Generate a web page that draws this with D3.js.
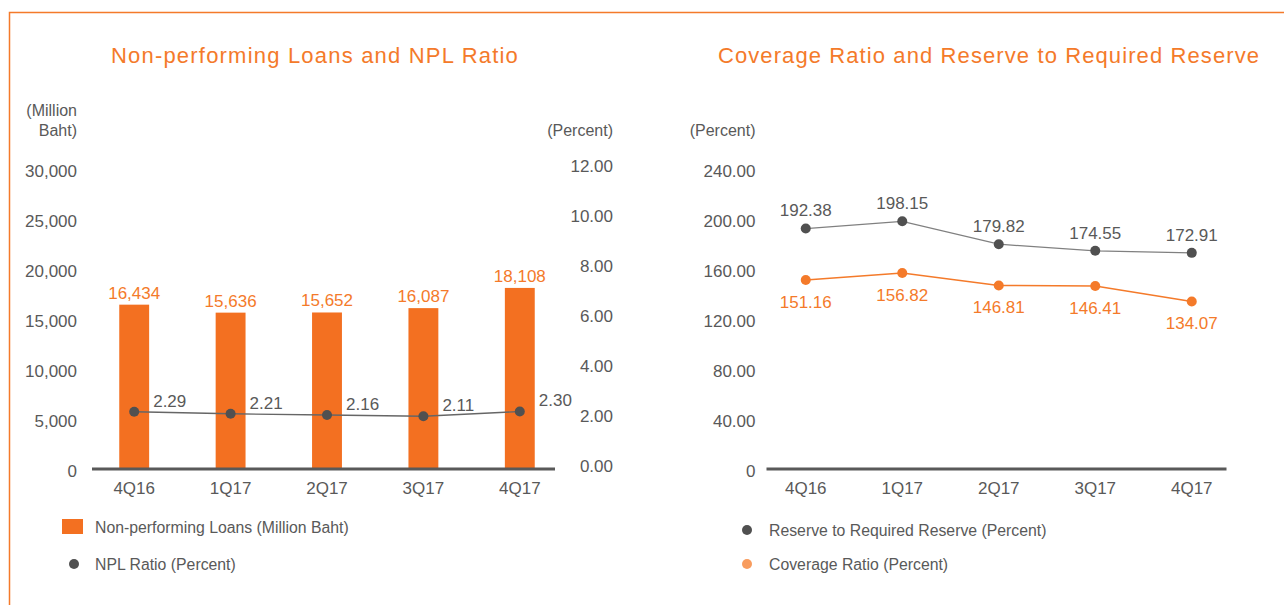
<!DOCTYPE html>
<html>
<head>
<meta charset="utf-8">
<script src="https://d3js.org/d3.v7.min.js"></script>
<style>
  body { margin: 0; background: #fff; }
  svg { display: block; font-family: "Liberation Sans", Arial, sans-serif; }
</style>
</head>
<body>
<svg id="chart" width="1284" height="605"></svg>
<script>
// Data
var quarters = ["4Q16", "1Q17", "2Q17", "3Q17", "4Q17"];
var nplValues = [16434, 15636, 15652, 16087, 18108];
var nplRatio = [2.29, 2.21, 2.16, 2.11, 2.30];
var reserveRatio = [192.38, 198.15, 179.82, 174.55, 172.91];
var coverageRatio = [151.16, 156.82, 146.81, 146.41, 134.07];

var nplTicks = [0, 5000, 10000, 15000, 20000, 25000, 30000];
var pctTicks = [0, 2, 4, 6, 8, 10, 12];
var coverTicks = [0, 40, 80, 120, 160, 200, 240];

var orange = "#f47a2a";
var barOrange = "#f37021";
var lightOrange = "#f89c5e";
var gray = "#595959";
var dotGray = "#505050";

var svg = d3.select("#chart");

// Orange frame (top and left edges)
svg.append("path")
    .attr("d", "M1284,12.5 L9.5,12.5 L9.5,605")
    .attr("fill", "none")
    .attr("stroke", orange)
    .attr("stroke-width", 1.5);

function styleAxis(g, size) {
    g.select(".domain").remove();
    g.selectAll("text")
        .attr("fill", gray)
        .style("font-size", size + "px")
        .style("font-family", "Liberation Sans, Arial, sans-serif");
}

// ---------- Left chart: Non-performing Loans and NPL Ratio ----------
var x1 = d3.scaleBand().domain(quarters).range([86, 568]).padding(0);
var y1 = d3.scaleLinear().domain([0, 30000]).range([469, 169]);
var y1r = d3.scaleLinear().domain([0, 12]).range([469, 169]);

svg.append("text")
    .attr("x", 315).attr("y", 55).attr("dy", "0.35em")
    .attr("text-anchor", "middle")
    .attr("fill", orange)
    .style("font-size", "22px")
    .style("letter-spacing", "1.2px")
    .text("Non-performing Loans and NPL Ratio");

// unit labels
svg.append("text").attr("x", 77).attr("y", 110).attr("dy", "0.35em")
    .attr("text-anchor", "end").attr("fill", gray).style("font-size", "16px")
    .text("(Million");
svg.append("text").attr("x", 77).attr("y", 130).attr("dy", "0.35em")
    .attr("text-anchor", "end").attr("fill", gray).style("font-size", "16px")
    .text("Baht)");
svg.append("text").attr("x", 613).attr("y", 130).attr("dy", "0.35em")
    .attr("text-anchor", "end").attr("fill", gray).style("font-size", "16px")
    .text("(Percent)");

// left axis
svg.append("g")
    .attr("transform", "translate(77,2)")
    .call(d3.axisLeft(y1).tickValues(nplTicks).tickSize(0).tickPadding(0)
        .tickFormat(d3.format(",")))
    .call(g => styleAxis(g, 17));

// right axis (labels right aligned)
svg.append("g")
    .attr("transform", "translate(613,-3)")
    .call(d3.axisLeft(y1r).tickValues(pctTicks).tickSize(0).tickPadding(0)
        .tickFormat(d3.format(".2f")))
    .call(g => styleAxis(g, 17));

// bars
var barW = x1.bandwidth() * 0.31;
svg.selectAll(".bar")
    .data(nplValues)
    .enter().append("rect")
    .attr("class", "bar")
    .attr("x", (d, i) => x1(quarters[i]) + x1.bandwidth() / 2 - barW / 2)
    .attr("y", d => y1(d))
    .attr("width", barW)
    .attr("height", d => y1(0) - y1(d))
    .attr("fill", barOrange);

svg.selectAll(".barLabel")
    .data(nplValues)
    .enter().append("text")
    .attr("class", "barLabel")
    .attr("x", (d, i) => x1(quarters[i]) + x1.bandwidth() / 2)
    .attr("y", d => y1(d) - 12)
    .attr("dy", "0.35em")
    .attr("text-anchor", "middle")
    .attr("fill", orange)
    .style("font-size", "17px")
    .text(d => d3.format(",")(d));

// x axis
svg.append("g")
    .attr("transform", "translate(0,469)")
    .call(d3.axisBottom(x1).tickSize(0).tickPadding(13))
    .call(g => styleAxis(g, 17));

svg.append("line")
    .attr("x1", 92).attr("x2", 555)
    .attr("y1", 469).attr("y2", 469)
    .attr("stroke", gray).attr("stroke-width", 3);

// NPL ratio line
var nplLine = d3.line()
    .x((d, i) => x1(quarters[i]) + x1.bandwidth() / 2)
    .y(d => y1r(d));

svg.append("path")
    .datum(nplRatio)
    .attr("d", nplLine)
    .attr("fill", "none")
    .attr("stroke", "#666")
    .attr("stroke-width", 1.3);

svg.selectAll(".nplDot")
    .data(nplRatio)
    .enter().append("circle")
    .attr("class", "nplDot")
    .attr("cx", (d, i) => x1(quarters[i]) + x1.bandwidth() / 2)
    .attr("cy", d => y1r(d))
    .attr("r", 5)
    .attr("fill", dotGray);

svg.selectAll(".nplLabel")
    .data(nplRatio)
    .enter().append("text")
    .attr("class", "nplLabel")
    .attr("x", (d, i) => x1(quarters[i]) + x1.bandwidth() / 2 + 19)
    .attr("y", d => y1r(d) - 11)
    .attr("dy", "0.35em")
    .attr("fill", gray)
    .style("font-size", "17px")
    .text(d => d3.format(".2f")(d));

// legend
svg.append("rect")
    .attr("x", 62).attr("y", 519).attr("width", 21).attr("height", 15)
    .attr("fill", barOrange);
svg.append("text").attr("x", 95).attr("y", 527).attr("dy", "0.35em")
    .attr("fill", gray).style("font-size", "15.8px")
    .text("Non-performing Loans (Million Baht)");
svg.append("circle").attr("cx", 74).attr("cy", 564).attr("r", 5).attr("fill", dotGray);
svg.append("text").attr("x", 95).attr("y", 564).attr("dy", "0.35em")
    .attr("fill", gray).style("font-size", "15.8px")
    .text("NPL Ratio (Percent)");

// ---------- Right chart: Coverage Ratio and Reserve to Required Reserve ----------
var x2 = d3.scaleBand().domain(quarters).range([757.5, 1240]).padding(0);
var y2 = d3.scaleLinear().domain([0, 240]).range([469, 169]);

svg.append("text")
    .attr("x", 989).attr("y", 55).attr("dy", "0.35em")
    .attr("text-anchor", "middle")
    .attr("fill", orange)
    .style("font-size", "22px")
    .style("letter-spacing", "1.1px")
    .text("Coverage Ratio and Reserve to Required Reserve");

svg.append("text").attr("x", 755.5).attr("y", 130).attr("dy", "0.35em")
    .attr("text-anchor", "end").attr("fill", gray).style("font-size", "16px")
    .text("(Percent)");

svg.append("g")
    .attr("transform", "translate(755.5,2)")
    .call(d3.axisLeft(y2).tickValues(coverTicks).tickSize(0).tickPadding(0)
        .tickFormat(d => d === 0 ? "0" : d3.format(".2f")(d)))
    .call(g => styleAxis(g, 17));

svg.append("g")
    .attr("transform", "translate(0,469)")
    .call(d3.axisBottom(x2).tickSize(0).tickPadding(13))
    .call(g => styleAxis(g, 17));

svg.append("line")
    .attr("x1", 766.5).attr("x2", 1226.5)
    .attr("y1", 469).attr("y2", 469)
    .attr("stroke", gray).attr("stroke-width", 3);

var cx2 = (d, i) => x2(quarters[i]) + x2.bandwidth() / 2;
var line2 = d3.line().x(cx2).y(d => y2(d));

// reserve to required reserve (gray)
svg.append("path")
    .datum(reserveRatio)
    .attr("d", line2)
    .attr("fill", "none")
    .attr("stroke", "#808080")
    .attr("stroke-width", 1.3);

svg.selectAll(".resDot")
    .data(reserveRatio)
    .enter().append("circle")
    .attr("class", "resDot")
    .attr("cx", cx2)
    .attr("cy", d => y2(d))
    .attr("r", 5)
    .attr("fill", dotGray);

svg.selectAll(".resLabel")
    .data(reserveRatio)
    .enter().append("text")
    .attr("class", "resLabel")
    .attr("x", cx2)
    .attr("y", d => y2(d) - 18)
    .attr("dy", "0.35em")
    .attr("text-anchor", "middle")
    .attr("fill", gray)
    .style("font-size", "17px")
    .text(d => d3.format(".2f")(d));

// coverage ratio (orange)
svg.append("path")
    .datum(coverageRatio)
    .attr("d", line2)
    .attr("fill", "none")
    .attr("stroke", orange)
    .attr("stroke-width", 1.5);

svg.selectAll(".covDot")
    .data(coverageRatio)
    .enter().append("circle")
    .attr("class", "covDot")
    .attr("cx", cx2)
    .attr("cy", d => y2(d))
    .attr("r", 5)
    .attr("fill", orange);

svg.selectAll(".covLabel")
    .data(coverageRatio)
    .enter().append("text")
    .attr("class", "covLabel")
    .attr("x", cx2)
    .attr("y", d => y2(d) + 22)
    .attr("dy", "0.35em")
    .attr("text-anchor", "middle")
    .attr("fill", orange)
    .style("font-size", "17px")
    .text(d => d3.format(".2f")(d));

// legend
svg.append("circle").attr("cx", 747).attr("cy", 530).attr("r", 5).attr("fill", dotGray);
svg.append("text").attr("x", 769).attr("y", 530).attr("dy", "0.35em")
    .attr("fill", gray).style("font-size", "15.8px")
    .text("Reserve to Required Reserve (Percent)");
svg.append("circle").attr("cx", 747).attr("cy", 564).attr("r", 5).attr("fill", lightOrange);
svg.append("text").attr("x", 769).attr("y", 564).attr("dy", "0.35em")
    .attr("fill", gray).style("font-size", "15.8px")
    .text("Coverage Ratio (Percent)");
</script>
</body>
</html>
